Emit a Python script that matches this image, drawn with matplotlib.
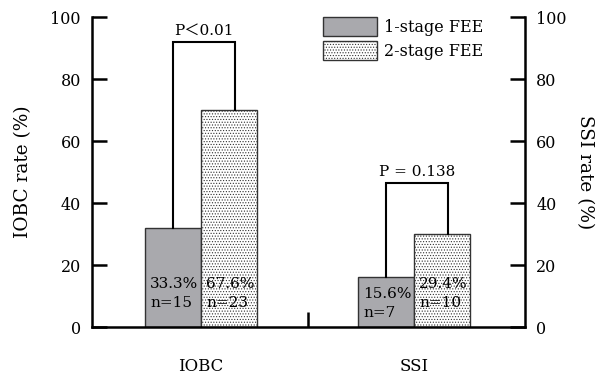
import matplotlib
matplotlib.use('Agg')
import matplotlib.pyplot as plt
import numpy as np

plt.rcParams['font.family'] = ['DejaVu Serif']
plt.rcParams['hatch.color'] = '#c8c8c8'
plt.rcParams['hatch.linewidth'] = 0.5

# données
categories = ['IOBC', 'SSI']
stage1 = [32, 16]
stage2 = [70, 30]
stage1_labels = ['33.3%\nn=15', '15.6%\nn=7']
stage2_labels = ['67.6%\nn=23', '29.4%\nn=10']
bracket_tops = [92, 46.5]
p_texts = ['P\uff1c0.01', 'P = 0.138']
yticks = [0, 20, 40, 60, 80, 100]

fig = plt.figure(figsize=(5.99, 3.78), dpi=100)
ax = fig.add_axes([0.1536, 0.1349, 0.7229, 0.8201])

x = np.arange(len(categories))
w = 0.263

ax.bar(x - w/2, stage1, w, color='#a9a9ad', edgecolor='#333333', linewidth=1.0,
       label='1-stage FEE')
ax.bar(x + w/2, stage2, w, color='white', edgecolor='#333333', linewidth=1.0,
       hatch='......', label='2-stage FEE')

# textes dans les barres
for i in range(len(categories)):
    y1 = 16.2 if stage1[i] > 20 else 12.8
    ax.text(x[i] - w + 0.025, y1, stage1_labels[i], ha='left', va='top',
            fontsize=11, linespacing=1.45)
    ax.text(x[i] + 0.025, 16.2, stage2_labels[i], ha='left', va='top',
            fontsize=11, linespacing=1.45)

# crochets de significativité
for i in range(len(categories)):
    left = x[i] - 0.132
    right = x[i] + 0.16
    top = bracket_tops[i]
    ax.plot([left, left, right, right], [stage1[i], top, top, stage2[i]],
            color='black', linewidth=1.5, solid_joinstyle='miter')
    ax.text((left + right) / 2, top + 1.3, p_texts[i], ha='center', va='bottom',
            fontsize=11, family=['DejaVu Serif', 'Noto Sans CJK JP'])

ax.set_xlim(-0.512, 1.521)
ax.set_ylim(0, 100)
ax.set_yticks(yticks)
ax.set_xticks(x)
ax.set_xticklabels(categories, fontsize=12)
ax.set_xticks([0.5], minor=True)
ax.tick_params(axis='x', which='major', length=0, pad=22)
ax.tick_params(axis='x', which='minor', direction='in', length=11, width=1.8)
ax.tick_params(axis='y', direction='in', length=11, width=1.8, labelsize=11.5, pad=8)
for s in ['top', 'right']:
    ax.spines[s].set_visible(False)
for s in ['left', 'bottom']:
    ax.spines[s].set_linewidth(1.8)
ax.set_ylabel('IOBC rate (%)', fontsize=13.3, labelpad=13)

ax2 = ax.twinx()
ax2.set_ylim(0, 100)
ax2.set_yticks(yticks)
ax2.tick_params(axis='y', direction='in', length=11, width=1.8, labelsize=11.5, pad=8)
for s in ['top', 'left', 'bottom']:
    ax2.spines[s].set_visible(False)
ax2.spines['right'].set_linewidth(1.8)
ax2.set_ylabel('SSI rate (%)', fontsize=13.3, rotation=270, labelpad=20)

ax.legend(loc='upper left', bbox_to_anchor=(0.519, 1.02), frameon=False, fontsize=11.5,
          handlelength=3.4, handleheight=1.4, handletextpad=0.4, labelspacing=0.35,
          borderaxespad=0)

fig.savefig('out.png', dpi=100)
